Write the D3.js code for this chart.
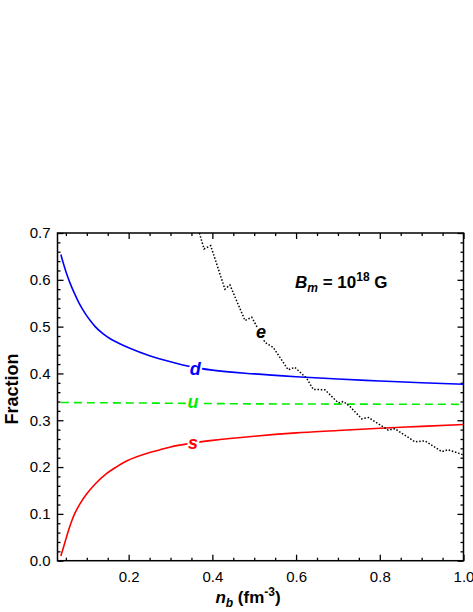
<!DOCTYPE html>
<meta charset="utf-8">
<head>
  <title>Fraction vs nb</title>
</head>
<style>
body { margin: 0; background: #fff; }
svg text { font-family: "Liberation Sans", Arial, sans-serif; }
.tick text { font-size: 15px; fill: #000; }
.tick line { stroke: #000; stroke-width: 1.3px; }
.curve { fill: none; }
.lbl {
  font-weight: bold;
  font-style: italic;
  font-size: 18px;
  paint-order: stroke;
  stroke: #fff;
  stroke-width: 4px;
  stroke-linejoin: round;
}
</style>
<body>
<script src="https://cdn.jsdelivr.net/npm/d3@7"></script>
<script>
// ---- data ----
var nbD = [0.038, 0.045, 0.05, 0.055, 0.06, 0.07, 0.08, 0.09, 0.10, 0.11, 0.12, 0.14, 0.16, 0.18, 0.20,
           0.25, 0.30, 0.35, 0.40, 0.50, 0.60, 0.70, 0.80, 0.90, 1.00]
var dVals = [0.654, 0.632, 0.618, 0.605, 0.593, 0.572, 0.553, 0.537, 0.523, 0.511, 0.500, 0.484, 0.472, 0.463, 0.455,
             0.438, 0.425, 0.414, 0.407, 0.399, 0.393, 0.388, 0.384, 0.380, 0.377]

var nbS = [0.038, 0.042, 0.048, 0.055, 0.064, 0.072, 0.084, 0.10, 0.12, 0.147, 0.17, 0.195,
           0.25, 0.275, 0.30, 0.35, 0.40, 0.50, 0.60, 0.70, 0.80, 0.90, 1.00]
var sVals = [0.010, 0.022, 0.040, 0.061, 0.085, 0.102, 0.122, 0.143, 0.164, 0.186, 0.200, 0.213,
             0.231, 0.237, 0.243, 0.251, 0.257, 0.266, 0.273, 0.278, 0.283, 0.287, 0.291]

var nbU = [0.038, 0.10, 0.20, 0.35, 0.50, 0.70, 1.00]
var uVals = [0.338, 0.3375, 0.337, 0.336, 0.335, 0.3345, 0.334]

var nbE = [0.369, 0.380, 0.396, 0.430, 0.442, 0.478, 0.494, 0.502, 0.526, 0.546, 0.581, 0.597,
           0.625, 0.641, 0.669, 0.701, 0.713, 0.729, 0.757, 0.773, 0.820, 0.836, 0.884, 0.908,
           0.948, 0.963, 1.00]
var eVals = [0.700, 0.666, 0.673, 0.580, 0.589, 0.513, 0.520, 0.507, 0.466, 0.455, 0.408, 0.413,
             0.390, 0.366, 0.365, 0.337, 0.340, 0.329, 0.303, 0.306, 0.279, 0.282, 0.254, 0.256,
             0.233, 0.237, 0.226]

var xMajor = [0.2, 0.4, 0.6, 0.8, 1.0]
var xMinor = [0.05, 0.1, 0.15, 0.25, 0.3, 0.35, 0.45, 0.5, 0.55, 0.65, 0.7, 0.75, 0.85, 0.9, 0.95]
var yMajor = [0, 0.1, 0.2, 0.3, 0.4, 0.5, 0.6, 0.7]
var yMinor = d3.range(0, 0.7001, 0.02).filter(function(v){ return Math.abs(v*10 - Math.round(v*10)) > 1e-6 })

// curve labels, anchored in data units
var labels = [
  {t: "d", x: 0.359, y: 0.397, c: "#0000ff"},
  {t: "u", x: 0.354, y: 0.3265, c: "#00ee00"},
  {t: "s", x: 0.354, y: 0.239, c: "#ff0000"},
  {t: "e", x: 0.516, y: 0.476, c: "#000"}
]

var width = 473, height = 612
var mL = 57.5, mR = 463.5, mT = 233, mB = 560.7

var svg = d3.select("body").append("svg")
    .attr("width", width)
    .attr("height", height)

var x = d3.scaleLinear().domain([0.03, 1.0]).range([mL, mR])
var y = d3.scaleLinear().domain([0, 0.7]).range([mB, mT])

function axis(gen, ty, tx, vals, size, fmt) {
  var g = svg.append("g")
    .attr("transform", "translate(" + tx + "," + ty + ")")
    .call(gen.tickValues(vals).tickSize(size).tickSizeOuter(0).tickFormat(fmt))
  g.select(".domain").remove()
  return g
}
var none = function(){ return "" }

// bottom
var xb = axis(d3.axisBottom(x), mB, 0, xMajor, -6, d3.format(".1f"))
xb.selectAll("text").attr("y", 21).attr("dy", 0)
axis(d3.axisBottom(x), mB, 0, xMinor, -3, none)
// top
axis(d3.axisTop(x), mT, 0, xMajor, -6, none)
axis(d3.axisTop(x), mT, 0, xMinor, -3, none)
// left
var yl = axis(d3.axisLeft(y), 0, mL, yMajor, -6, d3.format(".1f"))
yl.selectAll("text").attr("x", -7)
axis(d3.axisLeft(y), 0, mL, yMinor, -3, none)
// right
axis(d3.axisRight(y), 0, mR, yMajor, -6, none)
axis(d3.axisRight(y), 0, mR, yMinor, -3, none)

svg.selectAll(".tick text").filter(function(){ return this.textContent === "" }).remove()

// frame
svg.append("rect")
    .attr("x", mL).attr("y", mT)
    .attr("width", mR - mL).attr("height", mB - mT)
    .attr("fill", "none").attr("stroke", "#000").attr("stroke-width", 1.5)

svg.append("clipPath").attr("id", "plot")
  .append("rect").attr("x", mL).attr("y", mT).attr("width", mR - mL).attr("height", mB - mT)

var line = d3.line()
    .x(function(d){ return x(d[0]) })
    .y(function(d){ return y(d[1]) })

function draw(xs, ys, color, w, dash, curve) {
  svg.append("path")
    .datum(d3.zip(xs, ys))
    .attr("class", "curve")
    .attr("clip-path", "url(#plot)")
    .attr("stroke", color)
    .attr("stroke-width", w)
    .attr("stroke-dasharray", dash)
    .attr("d", line.curve(curve))
}

draw(nbU, uVals, "#00ee00", 1.6, "8,5", d3.curveLinear)
draw(nbD, dVals, "#0000ff", 1.6, null, d3.curveMonotoneX)
draw(nbS, sVals, "#ff0000", 1.6, null, d3.curveMonotoneX)
draw(nbE, eVals, "#000", 1.5, "1.5,1.8", d3.curveLinear)

svg.selectAll(".lbl")
  .data(labels)
  .enter().append("text")
    .attr("class", "lbl")
    .attr("x", function(d){ return x(d.x) })
    .attr("y", function(d){ return y(d.y) })
    .attr("text-anchor", "middle")
    .attr("fill", function(d){ return d.c })
    .text(function(d){ return d.t })

// field annotation
var bt = svg.append("text")
    .attr("x", 295).attr("y", 288)
    .style("font-size", "17px").style("font-weight", "bold")
bt.append("tspan").style("font-style", "italic").text("B")
bt.append("tspan").style("font-style", "italic").style("font-size", "12px").attr("dy", 4).text("m")
bt.append("tspan").attr("dy", -4).text(" = 10")
bt.append("tspan").style("font-size", "12px").attr("dy", -7).text("18")
bt.append("tspan").attr("dy", 7).text(" G")

// axis titles
svg.append("text")
    .attr("transform", "translate(18,389) rotate(-90)")
    .attr("text-anchor", "middle")
    .style("font-size", "18px").style("font-weight", "bold")
    .text("Fraction")

var xt = svg.append("text")
    .attr("x", 248).attr("y", 603)
    .attr("text-anchor", "middle")
    .style("font-size", "17px").style("font-weight", "bold")
xt.append("tspan").style("font-style", "italic").text("n")
xt.append("tspan").style("font-style", "italic").style("font-size", "12px").attr("dy", 4).text("b")
xt.append("tspan").attr("dy", -4).text(" (fm")
xt.append("tspan").style("font-size", "12px").attr("dy", -7).text("-3")
xt.append("tspan").attr("dy", 7).text(")")
</script>
</body>
</html>
